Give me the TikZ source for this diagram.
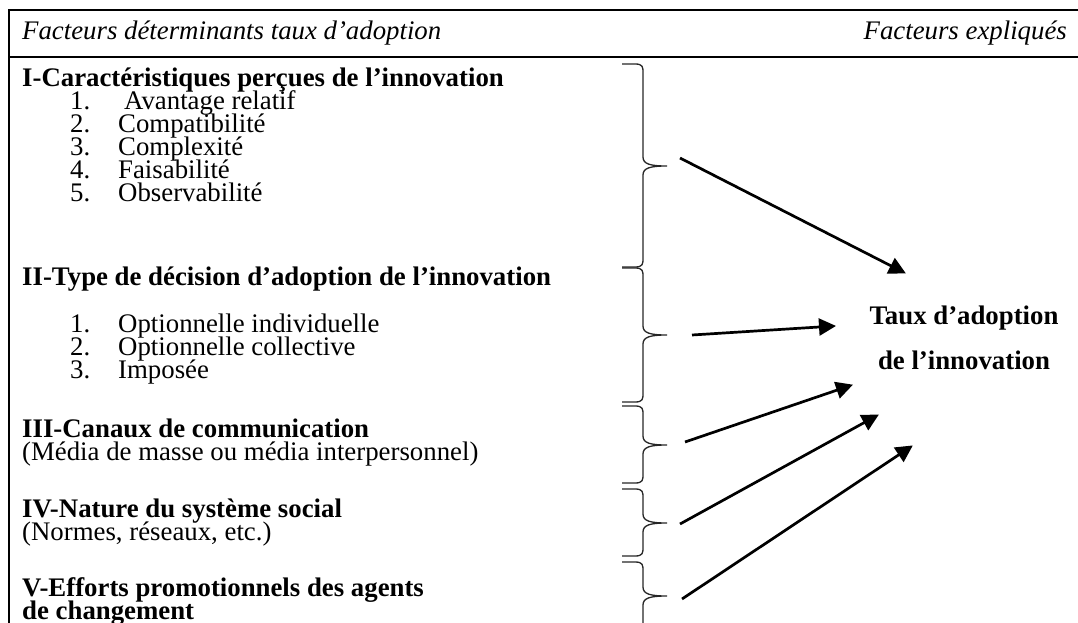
\documentclass[tikz,border=0pt]{standalone}
\usepackage{fontspec}
\setmainfont{Liberation Serif}
\usetikzlibrary{arrows.meta}
\newcommand\stk[2]{\vtop{\baselineskip=#1\lineskiplimit=-100pt\lineskip=0pt #2}}
\newcommand\itm[2]{\hbox{\hspace*{48pt}\makebox[48pt][l]{#1}#2}}
\newcommand\ctr[1]{\hbox to 240pt{\hss #1\hss}}
\begin{document}
\begin{tikzpicture}[x=1pt,y=-1pt,
  txt/.style={anchor=base west, inner sep=0pt, font=\fontsize{26.8}{23}\selectfont},
  it/.style={inner sep=0pt, font=\fontsize{26.8}{23}\selectfont\itshape},
  tg/.style={anchor=base, inner sep=0pt, font=\fontsize{26.8}{23}\selectfont\bfseries},
  frame/.style={line width=2.6pt},
  brc/.style={line width=1.3pt, draw=black!85},
  arr/.style={line width=2.7pt, -{Triangle[length=17pt,width=17pt]}, shorten >=-1pt}
]
\useasboundingbox (0,0) rectangle (1078,623);
% frame
\draw[frame] (9,623) -- (9,10) -- (1078,10);
\draw[frame] (9,57) -- (1078,57);
% header
\node[it, anchor=base west] (h1) at (22,40) {Facteurs déterminants taux d’adoption};
\node[it, anchor=base east] (h2) at (1067,40) {Facteurs expliqués};
% section I
\node[txt] (sec1) at (22,87) {\stk{23pt}{%
  \hbox{\bfseries I-Caractéristiques perçues de l’innovation}
  \itm{1.}{\hspace*{6pt}Avantage relatif}
  \itm{2.}{Compatibilité}
  \itm{3.}{Complexité}
  \itm{4.}{Faisabilité}
  \itm{5.}{Observabilité}}};
% section II
\node[txt] (sec2) at (22,285) {\stk{23pt}{%
  \hbox{\bfseries II-Type de décision d’adoption de l’innovation}
  \vskip 24pt
  \itm{1.}{Optionnelle individuelle}
  \itm{2.}{Optionnelle collective}
  \itm{3.}{Imposée}}};
% section III
\node[txt] (sec3) at (22,437) {\stk{23pt}{%
  \hbox{\bfseries III-Canaux de communication}
  \hbox{(Média de masse ou média interpersonnel)}}};
% section IV
\node[txt] (sec4) at (22,517) {\stk{23pt}{%
  \hbox{\bfseries IV-Nature du système social}
  \hbox{(Normes, réseaux, etc.)}}};
% section V
\node[txt] (sec5) at (22,596) {\stk{23pt}{%
  \hbox{\bfseries V-Efforts promotionnels des agents}
  \hbox{\bfseries de changement}}};
% target
\node[tg] (tgt) at (964,324) {\stk{45pt}{%
  \ctr{Taux d’adoption}
  \ctr{de l’innovation}}};
% braces
\foreach \t/\m/\b in {64/166/267, 268/335/402, 406/445/483, 489/523/556, 562/596/630}{
  \draw[brc] (622,\t) -- (635,\t) .. controls (643,\t) and (643,\t+3) .. (643,\t+9)
    -- (643,\m-9) .. controls (643,\m-2) and (650,\m) .. (667,\m)
    .. controls (650,\m) and (643,\m+2) .. (643,\m+9)
    -- (643,\b-9) .. controls (643,\b-3) and (643,\b) .. (635,\b) -- (622,\b);
}
% arrows
\coordinate (s1) at (680,158); \coordinate (e1) at (905,273);
\coordinate (s2) at (692,335); \coordinate (e2) at (835,326);
\coordinate (s3) at (685,442); \coordinate (e3) at (852,385);
\coordinate (s4) at (680,524); \coordinate (e4) at (878,415);
\coordinate (s5) at (682,599); \coordinate (e5) at (912,446);
\draw[arr] (s1) -- (e1);
\draw[arr] (s2) -- (e2);
\draw[arr] (s3) -- (e3);
\draw[arr] (s4) -- (e4);
\draw[arr] (s5) -- (e5);
\end{tikzpicture}
\end{document}
